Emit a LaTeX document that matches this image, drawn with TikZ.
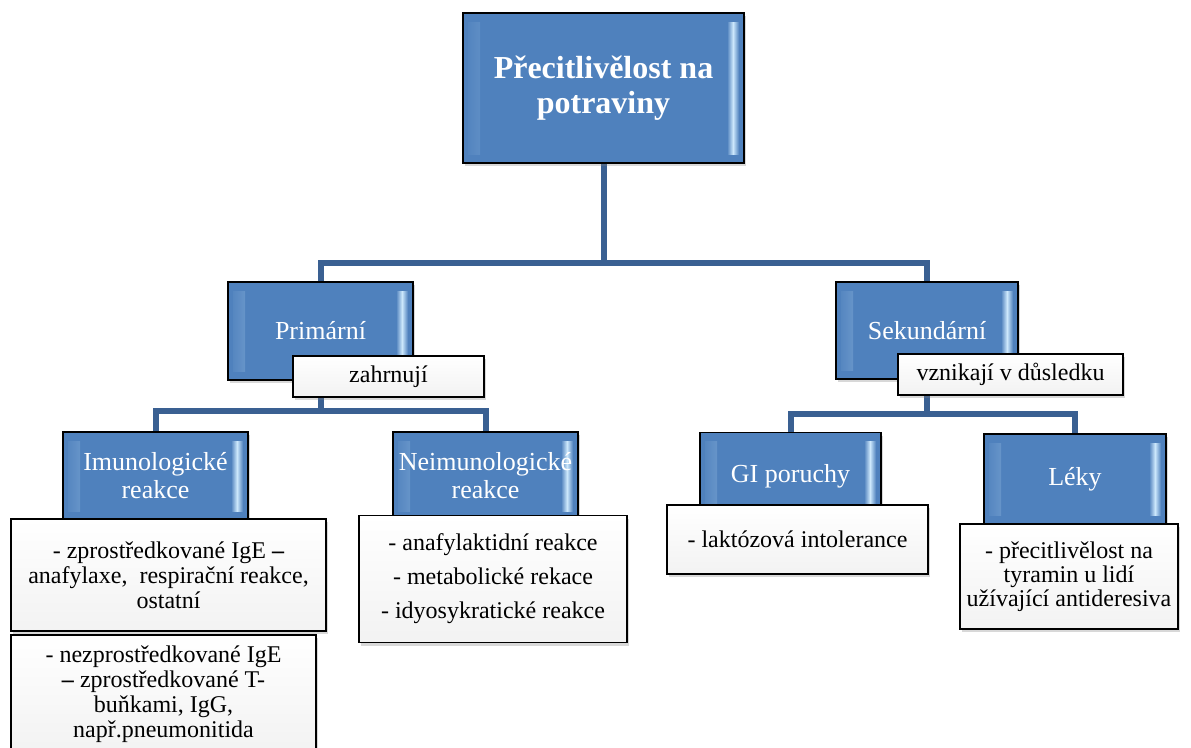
\documentclass[tikz,border=0pt]{standalone}
\usepackage{fontspec}
\setmainfont{Liberation Serif}
\usetikzlibrary{shadows}
\definecolor{bfill}{RGB}{79,129,189}
\definecolor{blight}{RGB}{205,232,252}
\definecolor{connc}{RGB}{58,96,146}
\pgfdeclarelayer{bg}
\pgfsetlayers{bg,main}
\tikzset{
  boxshadow/.style={drop shadow={opacity=0.3, shadow xshift=2pt, shadow yshift=-3pt}},
  bevel/.style={left color=bfill, right color=bfill, middle color=blight},
  bluebox/.style={draw=black, line width=1.6pt, fill=bfill, text=white, align=center,
    inner sep=0pt, font=\fontsize{26}{28}\selectfont, boxshadow,
    path picture={
      \shade[bevel]
        ([xshift=5pt,yshift=-9pt]path picture bounding box.north west) rectangle
        ([xshift=17pt,yshift=9pt]path picture bounding box.south west);
      \shade[bevel]
        ([xshift=-17pt,yshift=-9pt]path picture bounding box.north east) rectangle
        ([xshift=-5pt,yshift=9pt]path picture bounding box.south east);
    }},
  whitebox/.style={draw=black, line width=1.6pt, top color=white, bottom color=black!5,
    align=center, inner sep=0pt, font=\fontsize{24}{25}\selectfont, boxshadow},
  connline/.style={draw=connc, line width=6pt, line join=miter}
}
\begin{document}
\begin{tikzpicture}[x=1pt,y=-1pt]
\useasboundingbox (0,0) rectangle (1191,747);

% blue boxes
\node[bluebox, minimum width=281pt, minimum height=150pt,
  font=\fontsize{32}{35}\selectfont\bfseries] (top) at (603.5,88) {Přecitlivělost na\\potraviny};
\node[bluebox, minimum width=185pt, minimum height=98pt] (prim) at (320.5,331) {Primární};
\node[bluebox, minimum width=182pt, minimum height=97pt] (sek) at (927,330.5) {Sekundární};
\node[bluebox, minimum width=185pt, minimum height=88pt] (imu) at (155.5,476) {Imunologické\\reakce};
\node[bluebox, minimum width=185pt, minimum height=88pt] (neimu) at (485.5,476) {Neimunologické\\reakce};
\node[bluebox, minimum width=181pt, minimum height=87pt] (gi) at (790.5,476) {GI poruchy};
\node[bluebox, minimum width=182pt, minimum height=90pt] (leky) at (1075,479) {Léky};

% connectors
\coordinate (b1) at (603.5,263);
\coordinate (b2) at (320.5,411);
\coordinate (b3) at (927,414);
\begin{pgfonlayer}{bg}
\fill[white] (0,0) rectangle (1191,747);
\draw[connline] (top.south) -- (b1);
\draw[connline] (b1) -| (prim.north);
\draw[connline] (b1) -| (sek.north);
\draw[connline] (prim.south) -- (b2);
\draw[connline] (b2) -| (imu.north);
\draw[connline] (b2) -| (neimu.north);
\draw[connline] (sek.south) -- (b3);
\draw[connline] (b3) -| (gi.north);
\draw[connline] (b3) -| (leky.north);
\end{pgfonlayer}

% white boxes
\node[whitebox, minimum width=191pt, minimum height=41pt] (zahr) at (388.5,376.5) {zahrnují};
\node[whitebox, minimum width=225pt, minimum height=41pt] (vzn) at (1010.5,374.5) {vznikají v důsledku};

\node[whitebox, minimum width=315pt, minimum height=112pt] (d1) at (168.5,575)
  {- zprostředkované IgE \textbf{–}\\anafylaxe,~ respirační reakce,\\ostatní};
\node[whitebox, minimum width=305pt, minimum height=118pt, anchor=north] (d2) at (163.5,634)
  {- nezprostředkované IgE\\\textbf{–} zprostředkované T-\\buňkami, IgG,\\např.pneumonitida};
\node[whitebox, minimum width=268pt, minimum height=127pt,
  font=\fontsize{24}{34}\selectfont] (d3) at (493,579)
  {- anafylaktidní reakce\\- metabolické rekace\\- idyosykratické reakce};
\node[whitebox, minimum width=261pt, minimum height=69pt] (d4) at (797.5,539.5)
  {- laktózová intolerance};
\node[whitebox, minimum width=218pt, minimum height=105pt,
  font=\fontsize{24}{24}\selectfont] (d5) at (1069,576.5)
  {- přecitlivělost na\\tyramin u lidí\\užívající antideresiva};
\end{tikzpicture}
\end{document}
